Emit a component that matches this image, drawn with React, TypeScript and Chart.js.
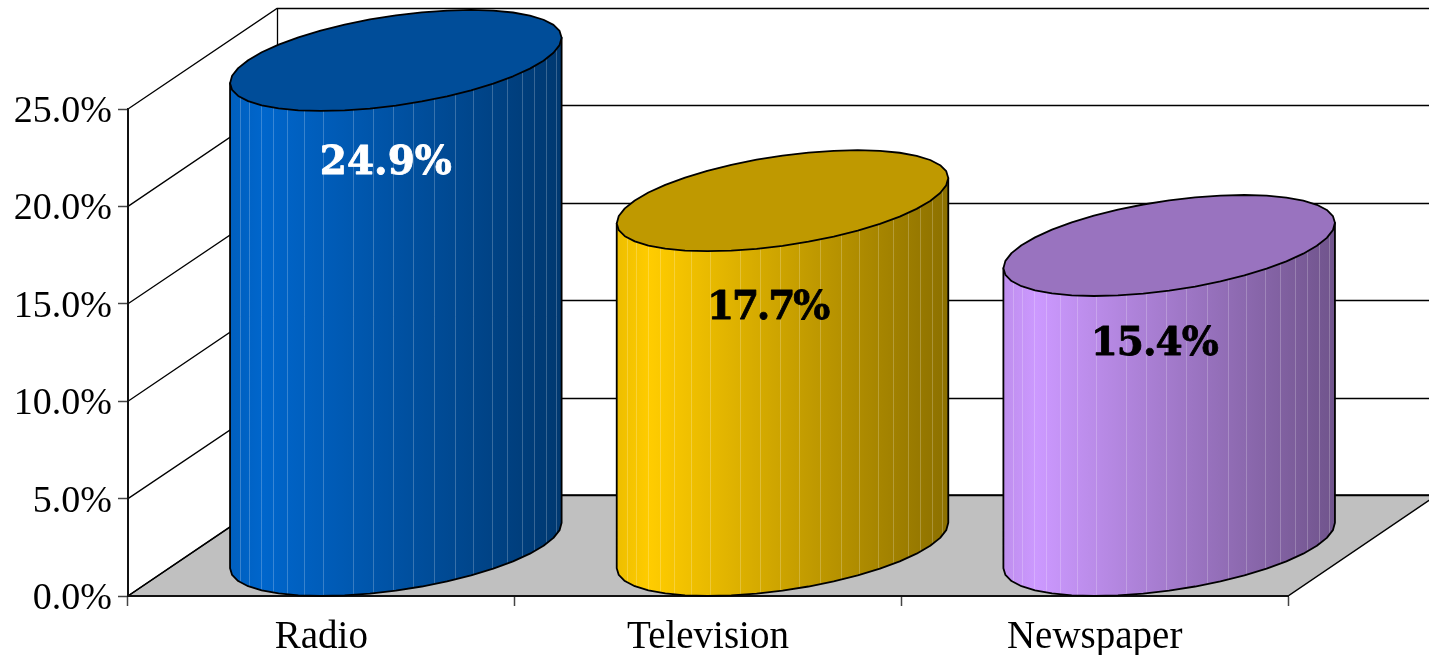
import React, { useEffect, useRef } from "react";
import { Chart, registerables } from "chart.js";

Chart.register(...registerables);

const categories = ["Radio", "Television", "Newspaper"];
const shares = [24.9, 17.7, 15.4];
const barColors = ["#0066CC", "#FFCC00", "#CC99FF"];
const valueLabelColors = ["#FFFFFF", "#000000", "#000000"];

// Presentation only
const DEPTH_X = 149;
const DEPTH_Y = -101;
const labelShiftX = [-10, -15, -15];
const labelShiftY = [103, 108, 99.5];
const labelTracking = ["0px", "-2.2px", "-1px"];
const facetEdges = [0, 10, 19, 31, 43, 57, 74, 93, 123, 143, 163, 183, 204, 225, 243, 262, 277, 292, 304, 316, 326, 332];

function rgb(hex: string) {
  return [1, 3, 5].map((i) => parseInt(hex.slice(i, i + 2), 16));
}
function shade(hex: string, k: number) {
  const [r, g, b] = rgb(hex);
  return `rgb(${Math.round(r * k)},${Math.round(g * k)},${Math.round(b * k)})`;
}

const scene3d = {
  id: "scene3d",
  beforeDraw(chart: any) {
    const { ctx, scales, width } = chart;
    const { x: xs, y: ys } = scales;
    const L = xs.left, R = xs.right;
    const y0 = ys.getPixelForValue(0);
    ctx.save();
    ctx.fillStyle = "#FFFFFF";
    ctx.fillRect(0, 0, width, chart.height);
    // floor
    ctx.beginPath();
    ctx.moveTo(L, y0);
    ctx.lineTo(R, y0);
    ctx.lineTo(R + DEPTH_X, y0 + DEPTH_Y);
    ctx.lineTo(L + DEPTH_X, y0 + DEPTH_Y);
    ctx.closePath();
    ctx.fillStyle = "#C0C0C0";
    ctx.fill();
    ctx.strokeStyle = "#000";
    ctx.lineWidth = 1.5;
    ctx.stroke();
    // walls
    ctx.lineWidth = 1.3;
    ys.ticks.forEach((t: any) => {
      const y = ys.getPixelForValue(t.value);
      const back = Math.round(y + DEPTH_Y) + 0.5;
      ctx.beginPath();
      ctx.moveTo(L, y);
      ctx.lineTo(L + DEPTH_X, back);
      ctx.lineTo(R + DEPTH_X, back);
      ctx.stroke();
    });
    ctx.beginPath();
    ctx.moveTo(L + DEPTH_X + 0.5, ys.getPixelForValue(25) + DEPTH_Y);
    ctx.lineTo(L + DEPTH_X + 0.5, y0 + DEPTH_Y);
    ctx.stroke();
    ctx.restore();
  },
  beforeDatasetsDraw(chart: any) {
    const { ctx, scales } = chart;
    const ys = scales.y;
    const meta = chart.getDatasetMeta(0);
    const values = chart.data.datasets[0].data as number[];
    const vx = DEPTH_X / 2, vy = DEPTH_Y / 2;
    const yBase = ys.getPixelForValue(0) + vy;
    meta.data.forEach((el: any, i: number) => {
      const cx = el.x + vx;
      const a = el.width / 2;
      const yTop = ys.getPixelForValue(values[i]) + vy;
      const color = barColors[i];
      const t0 = Math.atan2(vx, a);
      const half = Math.hypot(a, vx);
      const pt = (t: number, cy: number) => [cx + Math.cos(t) * a + Math.sin(t) * vx, cy + Math.sin(t) * vy];
      const N = 40;
      const front: number[][] = [];
      for (let k = 0; k <= N / 2; k++) front.push(pt(Math.PI + t0 + (k * 2 * Math.PI) / N, yBase));
      const left = cx - half;
      ctx.save();
      // side
      const side = () => {
        ctx.beginPath();
        ctx.moveTo(front[0][0], yTop + (front[0][1] - yBase));
        front.forEach((p) => ctx.lineTo(p[0], p[1]));
        const last = front[front.length - 1];
        ctx.lineTo(last[0], yTop + (last[1] - yBase));
        ctx.closePath();
      };
      ctx.save();
      side();
      ctx.clip();
      const grad = ctx.createLinearGradient(left, 0, left + 2 * half, 0);
      grad.addColorStop(0, shade(color, 0.93));
      grad.addColorStop(0.1, shade(color, 1));
      grad.addColorStop(1, shade(color, 0.55));
      ctx.fillStyle = grad;
      ctx.fillRect(left - 2, yTop - 80, 2 * half + 4, yBase - yTop + 160);
      ctx.strokeStyle = "rgba(255,255,255,0.22)";
      ctx.lineWidth = 1;
      facetEdges.slice(1, -1).forEach((e) => {
        const x = Math.round(left + (e / 332) * 2 * half) + 0.5;
        ctx.beginPath();
        ctx.moveTo(x, yTop - 80);
        ctx.lineTo(x, yBase + 80);
        ctx.stroke();
      });
      ctx.restore();
      side();
      ctx.strokeStyle = "#000";
      ctx.lineWidth = 1.8;
      ctx.lineJoin = "round";
      ctx.stroke();
      // top cap
      ctx.beginPath();
      for (let k = 0; k < N; k++) {
        const p = pt((k * 2 * Math.PI) / N + t0, yTop);
        if (k === 0) ctx.moveTo(p[0], p[1]);
        else ctx.lineTo(p[0], p[1]);
      }
      ctx.closePath();
      ctx.fillStyle = shade(color, 0.75);
      ctx.fill();
      ctx.stroke();
      ctx.restore();
    });
    // Default flat bars are replaced by the cylinders above.
    return false;
  },
  afterDraw(chart: any) {
    const { ctx, scales } = chart;
    const ys = scales.y;
    const meta = chart.getDatasetMeta(0);
    const values = chart.data.datasets[0].data as number[];
    ctx.save();
    ctx.font = "bold 39px 'DejaVu Serif'";
    ctx.textAlign = "center";
    ctx.textBaseline = "middle";
    ctx.lineJoin = "round";
    ctx.lineWidth = 0.8;
    meta.data.forEach((el: any, i: number) => {
      ctx.fillStyle = valueLabelColors[i];
      ctx.strokeStyle = valueLabelColors[i];
      (ctx as any).letterSpacing = labelTracking[i];
      const text = values[i].toFixed(1) + "%";
      const lx = el.x + DEPTH_X / 2 + labelShiftX[i];
      const ly = ys.getPixelForValue(values[i]) + DEPTH_Y / 2 + labelShiftY[i];
      ctx.fillText(text, lx, ly);
      ctx.strokeText(text, lx, ly);
    });
    ctx.restore();
  },
};

export default function App() {
  const ref = useRef<HTMLCanvasElement>(null);
  useEffect(() => {
    const chart = new Chart(ref.current!, {
      type: "bar",
      data: {
        labels: categories,
        datasets: [
          {
            label: "Share",
            data: shares,
            backgroundColor: barColors,
            barPercentage: 1,
            categoryPercentage: 0.766,
          },
        ],
      },
      options: {
        responsive: false,
        animation: false,
        layout: { padding: { left: 0, right: 141, top: 109, bottom: 0 } },
        plugins: { legend: { display: false }, title: { display: false }, tooltip: { enabled: false } },
        scales: {
          x: {
            afterFit: (s: any) => {
              s.height = 59;
            },
            grid: { drawOnChartArea: false, tickLength: 10, tickColor: "#444", tickWidth: 1.5 },
            border: { display: true, color: "#111", width: 2 },
            ticks: {
              font: { family: "'Liberation Serif'", size: 39 },
              color: "#000",
              padding: 8,
              maxRotation: 0,
              autoSkip: false,
            },
          },
          y: {
            min: 0,
            max: 25,
            afterFit: (s: any) => {
              s.width = 128;
            },
            grid: { drawOnChartArea: false, tickLength: 10, tickColor: "#444", tickWidth: 1.5 },
            border: { display: true, color: "#111", width: 2 },
            ticks: {
              stepSize: 5,
              font: { family: "'Liberation Serif'", size: 38 },
              color: "#000",
              padding: 6,
              labelOffset: 3,
              callback: (v: any) => Number(v).toFixed(1) + "%",
            },
          },
        },
      },
      plugins: [scene3d],
    } as any);
    return () => chart.destroy();
  }, []);
  return (
    <canvas
      ref={ref}
      width={1429}
      height={655}
      style={{ position: "fixed", left: 0, top: 0, width: 1429, height: 655, display: "block" }}
    />
  );
}
